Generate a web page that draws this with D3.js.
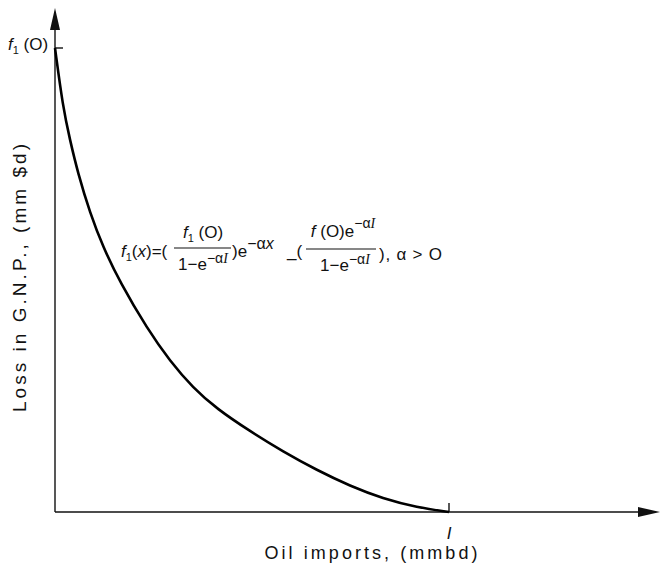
<!DOCTYPE html>
<html>
<head>
<meta charset="utf-8">
<title>Loss in GNP vs oil imports</title>
<script src="https://cdnjs.cloudflare.com/ajax/libs/d3/7.8.5/d3.min.js"></script>
<style>
 body { margin: 0; background: #fff; }
 text { font-family: "Liberation Sans", Arial, sans-serif; fill: #111; }
</style>
</head>
<body>
<svg id="chart" width="660" height="572"></svg>
<script>
// curve (x in units of I/10, y in units of f1(0)/10)
var imports = [0, 0.20, 0.38, 0.58, 0.89, 1.22, 1.65, 2.34, 2.92, 3.50, 4.11, 4.95, 5.79, 6.65, 7.49, 8.32, 9.19, 10];
var loss    = [10, 8.73, 8.02, 7.31, 6.44, 5.71, 4.95, 3.95, 3.25, 2.68, 2.22, 1.74, 1.30, 0.90, 0.56, 0.29, 0.10, 0];
var xTicks = [{v: 10, label: "I"}];
var yTicks = [{v: 10, label: "f1(O)"}];

var svg = d3.select("#chart");
var x = d3.scaleLinear().domain([0, 10]).range([55, 449]);
var y = d3.scaleLinear().domain([0, 10]).range([512, 48]);

// axes with arrow heads
var ax = svg.append("g").attr("stroke", "#111").attr("stroke-width", 1.4);
ax.append("line").attr("x1", x(0)).attr("y1", y(0)).attr("x2", 650).attr("y2", y(0));
ax.append("line").attr("x1", x(0)).attr("y1", y(0)).attr("x2", x(0)).attr("y2", 16);
svg.append("path")
  .attr("d", "M" + x(0) + ",8 L" + (x(0) - 5) + ",30 L" + (x(0) + 5) + ",30 Z")
  .attr("fill", "#111");
svg.append("path")
  .attr("d", "M660," + y(0) + " L638," + (y(0) - 5) + " L638," + (y(0) + 5) + " Z")
  .attr("fill", "#111");

// ticks
xTicks.forEach(function(t) {
  ax.append("line").attr("x1", x(t.v)).attr("x2", x(t.v)).attr("y1", y(0)).attr("y2", y(0) - 9);
  svg.append("text").attr("x", x(t.v)).attr("y", y(0) + 27)
    .attr("text-anchor", "middle").attr("font-size", 17).attr("font-style", "italic")
    .attr("font-family", "Liberation Serif, serif").text(t.label);
});
yTicks.forEach(function(t) {
  ax.append("line").attr("x1", x(0)).attr("x2", x(0) + 8).attr("y1", y(t.v)).attr("y2", y(t.v));
  var lab = svg.append("text").attr("x", 8).attr("y", y(t.v) + 2).attr("font-size", 17);
  lab.append("tspan").attr("font-style", "italic").text("f");
  lab.append("tspan").attr("font-size", 11).attr("dy", 4).text("1");
  lab.append("tspan").attr("dy", -4).text(" (O)");
});

// the curve
var pts = imports.map(function(d, i) { return [d, loss[i]]; });
svg.append("path")
  .datum(pts)
  .attr("fill", "none")
  .attr("stroke", "#000")
  .attr("stroke-width", 2.6)
  .attr("d", d3.line().x(function(d) { return x(d[0]); }).y(function(d) { return y(d[1]); })
    .curve(d3.curveBasis));

// axis labels
svg.append("text").attr("x", 371).attr("y", 559).attr("text-anchor", "middle")
  .attr("font-family", "DejaVu Sans, sans-serif")
  .attr("font-size", 18).attr("textLength", 213).attr("lengthAdjust", "spacing")
  .text("Oil imports, (mmbd)");
svg.append("text").attr("transform", "translate(26,278) rotate(-90)")
  .attr("text-anchor", "middle").attr("font-size", 19)
  .attr("font-family", "DejaVu Sans, sans-serif")
  .attr("textLength", 268).attr("lengthAdjust", "spacing")
  .text("Loss in G.N.P., (mm $d)");

// formula
var f = svg.append("g").attr("font-size", 17);
var base = 257;
var t1 = f.append("text").attr("x", 121).attr("y", base);
t1.append("tspan").attr("font-style", "italic").text("f");
t1.append("tspan").attr("font-size", 11).attr("dy", 4).text("1");
t1.append("tspan").attr("dy", -4).text("(");
t1.append("tspan").attr("font-style", "italic").text("x");
t1.append("tspan").text(")=(");

var n1 = f.append("text").attr("x", 203).attr("y", 238).attr("text-anchor", "middle");
n1.append("tspan").attr("font-style", "italic").text("f");
n1.append("tspan").attr("font-size", 11).attr("dy", 4).text("1");
n1.append("tspan").attr("dy", -4).text(" (O)");
f.append("line").attr("x1", 174).attr("x2", 231).attr("y1", 248).attr("y2", 248)
  .attr("stroke", "#111").attr("stroke-width", 1.2);
var d1 = f.append("text").attr("x", 203).attr("y", 270).attr("text-anchor", "middle");
d1.append("tspan").text("1−e");
d1.append("tspan").attr("font-size", 14).attr("dy", -7).text("−α");
d1.append("tspan").attr("font-size", 14).attr("font-style", "italic").attr("font-family", "Liberation Serif, serif").text("I");

var t2 = f.append("text").attr("x", 232).attr("y", base);
t2.append("tspan").text(")e");
t2.append("tspan").attr("font-size", 16).attr("dy", -8).text("−α");
t2.append("tspan").attr("font-size", 16).attr("font-style", "italic").text("x");
f.append("text").attr("x", 287).attr("y", base).text("_(");

var n2 = f.append("text").attr("x", 343).attr("y", 237).attr("text-anchor", "middle");
n2.append("tspan").attr("font-style", "italic").text("f");
n2.append("tspan").text(" (O)e");
n2.append("tspan").attr("font-size", 14).attr("dy", -9).text("−α");
n2.append("tspan").attr("font-size", 14).attr("font-style", "italic").attr("font-family", "Liberation Serif, serif").text("I");
f.append("line").attr("x1", 306).attr("x2", 376).attr("y1", 249).attr("y2", 249)
  .attr("stroke", "#111").attr("stroke-width", 1.2);
var d2 = f.append("text").attr("x", 345).attr("y", 271).attr("text-anchor", "middle");
d2.append("tspan").text("1−e");
d2.append("tspan").attr("font-size", 14).attr("dy", -7).text("−α");
d2.append("tspan").attr("font-size", 14).attr("font-style", "italic").attr("font-family", "Liberation Serif, serif").text("I");

f.append("text").attr("x", 379).attr("y", base + 3)
  .attr("textLength", 63).attr("lengthAdjust", "spacing").text("), α > O");
</script>
</body>
</html>
